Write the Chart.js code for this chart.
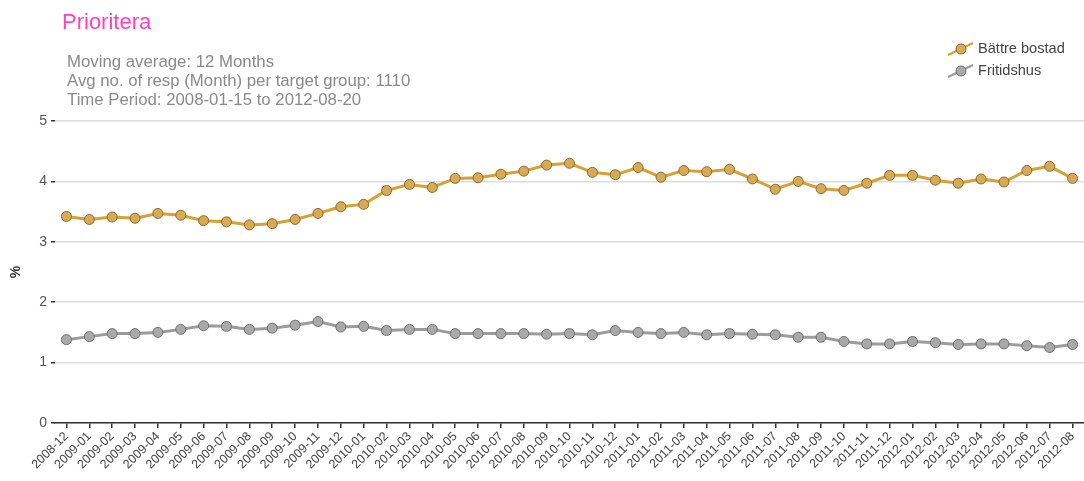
<!DOCTYPE html>
<html>
<head>
<meta charset="utf-8">
<title>Prioritera</title>
<script src="https://cdn.jsdelivr.net/npm/chart.js@4"></script>
<style>
    body { margin: 0; background: #fff; }
    #wrap { width: 1084px; height: 481px; }
</style>
</head>
<body>
<div id="wrap"><canvas id="chart" width="1084" height="481"></canvas></div>
<script>
// Months on the x axis
const months = [
    '2008-12', '2009-01', '2009-02', '2009-03', '2009-04', '2009-05', '2009-06', '2009-07', '2009-08',
    '2009-09', '2009-10', '2009-11', '2009-12', '2010-01', '2010-02', '2010-03', '2010-04', '2010-05',
    '2010-06', '2010-07', '2010-08', '2010-09', '2010-10', '2010-11', '2010-12', '2011-01', '2011-02',
    '2011-03', '2011-04', '2011-05', '2011-06', '2011-07', '2011-08', '2011-09', '2011-10', '2011-11',
    '2011-12', '2012-01', '2012-02', '2012-03', '2012-04', '2012-05', '2012-06', '2012-07', '2012-08'
];

// Series values (%)
const battreBostad = [
    3.42, 3.37, 3.41, 3.39, 3.47, 3.44, 3.35, 3.33, 3.28,
    3.30, 3.37, 3.47, 3.58, 3.62, 3.85, 3.95, 3.90, 4.05,
    4.06, 4.12, 4.17, 4.27, 4.30, 4.15, 4.11, 4.23, 4.07,
    4.18, 4.16, 4.20, 4.04, 3.87, 4.00, 3.88, 3.85, 3.97,
    4.10, 4.10, 4.02, 3.97, 4.04, 3.99, 4.18, 4.25, 4.05
];
const fritidshus = [
    1.38, 1.43, 1.48, 1.48, 1.50, 1.55, 1.61, 1.60, 1.55,
    1.57, 1.62, 1.68, 1.59, 1.60, 1.53, 1.55, 1.55, 1.48,
    1.48, 1.48, 1.48, 1.47, 1.48, 1.46, 1.53, 1.50, 1.48,
    1.50, 1.46, 1.48, 1.47, 1.46, 1.42, 1.42, 1.35, 1.31,
    1.31, 1.35, 1.33, 1.30, 1.31, 1.31, 1.28, 1.25, 1.30
];

const seriesNames = ['Bättre bostad', 'Fritidshus'];
const headerLines = [
    'Moving average: 12 Months',
    'Avg no. of resp (Month) per target group: 1110',
    'Time Period: 2008-01-15 to 2012-08-20'
];

const FONT = '"Liberation Sans", Arial, sans-serif';
const gold = { line: '#D9A032', fill: '#D7AA56', edge: '#8C6A2C' };
const grey = { line: '#9C9C9C', fill: '#A9A9A9', edge: '#707070' };

// Title, info lines and legend are drawn by hand
const headerPlugin = {
    id: 'header',
    afterDraw(chart) {
        const ctx = chart.ctx;
        ctx.save();
        ctx.textBaseline = 'alphabetic';
        ctx.textAlign = 'left';
        ctx.fillStyle = '#FF3FC6';
        ctx.font = '22px ' + FONT;
        ctx.fillText('Prioritera', 62, 29);

        ctx.fillStyle = '#8a8a8a';
        ctx.font = '16.8px ' + FONT;
        headerLines.forEach((t, i) => ctx.fillText(t, 67, 66.5 + i * 19));

        // legend
        const cols = [gold, grey];
        seriesNames.forEach((name, i) => {
            const cy = 49 + i * 22;
            ctx.strokeStyle = cols[i].line;
            ctx.lineWidth = 2;
            ctx.beginPath();
            ctx.moveTo(948, cy + 6);
            ctx.lineTo(973, cy - 6);
            ctx.stroke();
            ctx.beginPath();
            ctx.arc(961, cy, 5, 0, Math.PI * 2);
            ctx.fillStyle = cols[i].fill;
            ctx.fill();
            ctx.strokeStyle = cols[i].edge;
            ctx.lineWidth = 1;
            ctx.stroke();
            ctx.fillStyle = '#444';
            ctx.font = '14.6px ' + FONT;
            ctx.textBaseline = 'middle';
            ctx.fillText(name, 978, cy);
        });
        ctx.restore();
    }
};

new Chart(document.getElementById('chart'), {
    type: 'line',
    data: {
        labels: months,
        datasets: [
            {
                label: seriesNames[0],
                data: battreBostad,
                borderColor: gold.line,
                borderWidth: 3,
                pointRadius: 5,
                pointBackgroundColor: gold.fill,
                pointBorderColor: gold.edge,
                pointBorderWidth: 1,
                tension: 0
            },
            {
                label: seriesNames[1],
                data: fritidshus,
                borderColor: grey.line,
                borderWidth: 3,
                pointRadius: 5,
                pointBackgroundColor: grey.fill,
                pointBorderColor: grey.edge,
                pointBorderWidth: 1,
                tension: 0
            }
        ]
    },
    options: {
        responsive: false,
        devicePixelRatio: 1,
        animation: false,
        layout: { autoPadding: false, padding: { top: 121, left: 0, right: 0, bottom: 0 } },
        plugins: {
            legend: { display: false },
            tooltip: { enabled: false }
        },
        scales: {
            x: {
                offset: true,
                grid: { drawOnChartArea: false, drawTicks: true, tickLength: 5, tickColor: '#333', lineWidth: 1.5 },
                border: { color: '#333', width: 1.5 },
                ticks: {
                    autoSkip: false,
                    maxRotation: 45,
                    minRotation: 45,
                    padding: 1,
                    color: '#444',
                    font: { family: FONT, size: 12.5 }
                },
                afterFit: (scale) => {
                    scale.height = 58;
                    scale.paddingLeft = 0;
                    scale.paddingRight = 0;
                }
            },
            y: {
                min: 0,
                max: 5,
                ticks: {
                    stepSize: 1,
                    padding: 4,
                    color: '#555',
                    font: { family: FONT, size: 14 }
                },
                grid: { color: '#dcdcdc', lineWidth: 1.5, tickLength: 4, tickColor: '#333' },
                border: { display: false },
                title: {
                    display: true,
                    text: '%',
                    color: '#333',
                    font: { family: FONT, size: 14, weight: 'bold' },
                    padding: { top: 8, bottom: 0 }
                },
                afterFit: (scale) => { scale.width = 55; }
            }
        }
    },
    plugins: [headerPlugin]
});
</script>
</body>
</html>
